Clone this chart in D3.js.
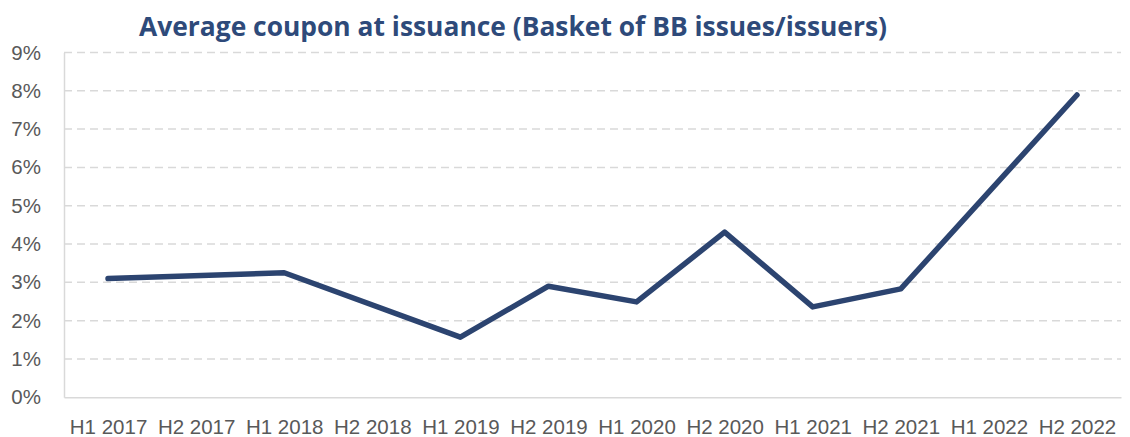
<!DOCTYPE html>
<html>
<head>
<meta charset="utf-8">
<script src="https://cdn.jsdelivr.net/npm/d3@7"></script>
<style>
  body { margin: 0; background: #fff; }
  #coupon_chart { width: 1130px; height: 437px; }
</style>
</head>
<body>
<div id="coupon_chart"></div>
<script>
const periods = ['H1 2017', 'H2 2017', 'H1 2018', 'H2 2018', 'H1 2019', 'H2 2019',
                 'H1 2020', 'H2 2020', 'H1 2021', 'H2 2021', 'H1 2022', 'H2 2022'];
// average coupon in %, null where no reading (line is connected across gaps)
const coupon = [3.10, null, 3.25, null, 1.57, 2.90, 2.49, 4.31, 2.36, 2.83, null, 7.89];
const yTicks = [0, 1, 2, 3, 4, 5, 6, 7, 8, 9];
const chartTitle = 'Average coupon at issuance (Basket of BB issues/issuers)';

document.addEventListener('DOMContentLoaded', function() {
  const W = 1130, H = 437;
  const margin = { top: 52.5, right: 9, bottom: 39.7, left: 64 },
        width = W - margin.left - margin.right,
        height = H - margin.top - margin.bottom;

  const svg = d3.select('#coupon_chart')
    .append('svg')
    .attr('width', W)
    .attr('height', H)
    .style('font-family', '"Open Sans", sans-serif');

  const g = svg.append('g')
    .attr('transform', `translate(${margin.left},${margin.top})`);

  const x = d3.scalePoint()
    .domain(periods)
    .range([0, width])
    .padding(0.5);

  const y = d3.scaleLinear()
    .domain([0, 9])
    .range([height, 0]);

  // dashed gridlines
  g.selectAll('.grid')
    .data(yTicks.filter(d => d > 0))
    .enter()
    .append('line')
    .attr('class', 'grid')
    .attr('x1', 0)
    .attr('x2', width)
    .attr('y1', d => y(d))
    .attr('y2', d => y(d))
    .attr('stroke', '#d9d9d9')
    .attr('stroke-width', 1.5)
    .attr('stroke-dasharray', '8,5');

  // y axis
  const yAxis = g.append('g')
    .call(d3.axisLeft(y).tickValues(yTicks).tickFormat(d => d + '%').tickSize(0).tickPadding(23));
  yAxis.select('.domain').attr('stroke', '#d9d9d9').attr('stroke-width', 1.5);
  yAxis.selectAll('text')
    .attr('fill', '#595959')
    .style('font-size', '20.5px');

  // x axis
  const xAxis = g.append('g')
    .attr('transform', `translate(0,${height})`)
    .call(d3.axisBottom(x).tickSize(0).tickPadding(22));
  xAxis.select('.domain').attr('stroke', '#d9d9d9').attr('stroke-width', 1.5);
  xAxis.selectAll('text')
    .attr('fill', '#595959')
    .style('font-size', '20.5px');

  // line
  const points = periods.map((p, i) => ({ p: p, v: coupon[i] })).filter(d => d.v !== null);
  const line = d3.line()
    .x(d => x(d.p))
    .y(d => y(d.v));

  g.append('path')
    .datum(points)
    .attr('d', line)
    .attr('fill', 'none')
    .attr('stroke', '#2c4470')
    .attr('stroke-width', 5.5)
    .attr('stroke-linejoin', 'round')
    .attr('stroke-linecap', 'round');

  // title
  svg.append('text')
    .attr('x', 513)
    .attr('y', 36)
    .attr('text-anchor', 'middle')
    .attr('fill', '#2e4a7a')
    .attr('font-weight', 'bold')
    .style('font-size', '26.4px')
    .text(chartTitle);
});
</script>
</body>
</html>
